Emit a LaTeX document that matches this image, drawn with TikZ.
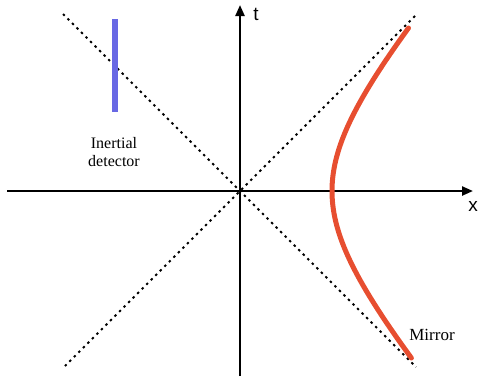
\documentclass[tikz,border=0pt]{standalone}
\usepackage{fontspec}
\setmainfont{Liberation Serif}
\newfontfamily\axisfont{Liberation Sans}
\usetikzlibrary{arrows.meta}
\definecolor{mirrorred}{RGB}{231,78,48}
\definecolor{detblue}{RGB}{104,104,228}
\tikzset{
  axisline/.style={line width=2.3pt, -{Triangle[length=11pt,width=9pt]}},
  lightcone/.style={line width=1.9pt, dash pattern=on 2.4pt off 4.0pt},
  worldline/.style={line width=5pt, line cap=round},
  axislabel/.style={font=\axisfont\fontsize{19}{19}\selectfont, inner sep=0pt},
  serifLabel/.style={font=\fontsize{16}{18.5}\selectfont, align=center, inner sep=0pt}
}
\begin{document}
\begin{tikzpicture}[x=1pt,y=-1pt]
\useasboundingbox (0,0) rectangle (481,376);
% named points
\coordinate (O) at (240,191);
\coordinate (xl) at (7,191);
\coordinate (xr) at (473,191);
\coordinate (tb) at (240,376);
\coordinate (tt) at (240,5);
\coordinate (ul) at (63,14);
\coordinate (lr) at (416,367);
\coordinate (ur) at (415,16);
\coordinate (ll) at (65,366);
\coordinate (dtop) at (115,19);
\coordinate (dbot) at (115,112);
% light cone
\draw[lightcone] (ul) -- (lr);
\draw[lightcone] (ur) -- (ll);
% axes
\draw[axisline] (xl) -- (xr);
\draw[axisline] (tb) -- (tt);
\node[axislabel] (tlab) at (256,14) {t};
\node[axislabel] (xlab) at (473,206) {x};
% inertial detector
\draw[worldline, detblue, line cap=butt, line width=5.5pt] (dtop) -- (dbot);
\node[serifLabel] (inert) at (114,152) {Inertial\\detector};
% mirror
\draw[worldline, mirrorred] plot[domain=-167:163, samples=120, variable=\t]
  ({240+10*sqrt(84.64+0.75*(\t/10)*(\t/10))}, {191-\t});
\node[serifLabel, font=\fontsize{17}{18}\selectfont] (mirror) at (432,335) {Mirror};
\end{tikzpicture}
\end{document}
